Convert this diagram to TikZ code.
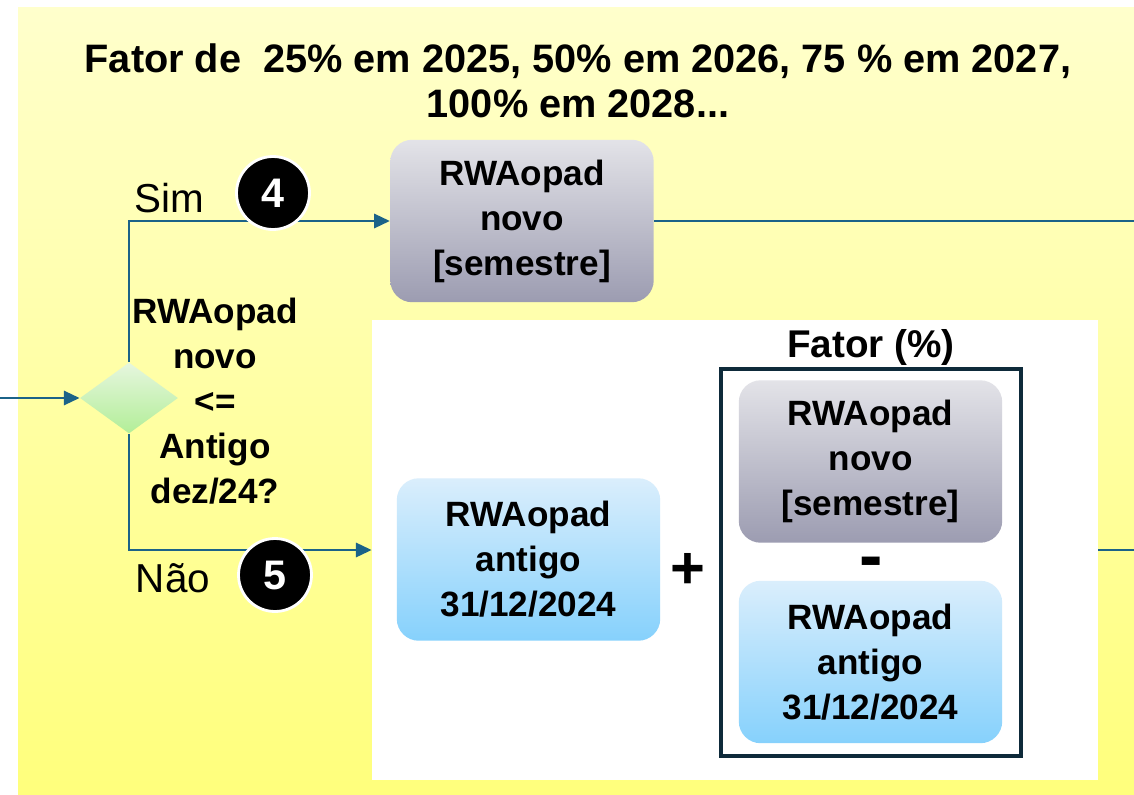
\documentclass[tikz,border=0pt]{standalone}
\usepackage{fontspec}
\setmainfont{Liberation Sans}
\usepackage{tikz}
\usetikzlibrary{arrows.meta,shapes.geometric,positioning}
\definecolor{flow}{HTML}{1B6388}
\definecolor{frame}{HTML}{0E2A3A}
\definecolor{bgtop}{HTML}{FFFFCC}
\definecolor{bgbot}{HTML}{FFFF7C}
\definecolor{graytop}{HTML}{E3E3E8}
\definecolor{graybot}{HTML}{9C9CB1}
\definecolor{bluetop}{HTML}{DAEEFC}
\definecolor{bluebot}{HTML}{86D1FC}
\definecolor{greentop}{HTML}{E6F6DE}
\definecolor{greenbot}{HTML}{B2EE98}
\newcommand{\boxfont}{\fontsize{20}{25.6}\selectfont\bfseries}
\tikzset{
  flowline/.style={draw=flow, line width=1.7pt},
  arr/.style={flowline, -{Triangle[length=9pt,width=8pt]}},
  card/.style={rounded corners=0.44cm, minimum width=5.27cm, minimum height=3.25cm,
    align=center, inner sep=0pt, font=\boxfont},
  graycard/.style={card, top color=graytop, bottom color=graybot},
  bluecard/.style={card, top color=bluetop, bottom color=bluebot},
  decision/.style={diamond, top color=greentop, bottom color=greenbot, inner sep=0pt,
    minimum width=1.96cm, minimum height=1.42cm},
  numcirc/.style={circle, fill=black, draw=white, line width=1.6pt, minimum size=1.46cm,
    inner sep=0pt, text=white, font=\fontsize{23.5}{23.5}\selectfont\bfseries},
  lab/.style={font=\fontsize{23}{23}\selectfont},
  sign/.style={inner sep=0pt, font=\bfseries},
}
\begin{document}
\begin{tikzpicture}[x=0.02cm, y=-0.02cm]
  \useasboundingbox (0,0) rectangle (1134,795);
  \fill[white] (0,0) rectangle (1134,795);
  \fill[top color=bgtop, bottom color=bgbot] (18,7) rectangle (1134,795);
  % title
  \node[align=center, font=\fontsize{22.6}{25.6}\selectfont\bfseries] (title) at (578,81)
    {Fator de~ 25\% em 2025, 50\% em 2026, 75 \% em 2027,\\100\% em 2028...};
  % decision
  \coordinate (in) at (0,398);
  \node[decision] (dec) at (129,398) {};
  \node[align=center, font=\boxfont] (cond) at (215,401)
    {RWAopad\\novo\\<=\\Antigo\\dez/24?};
  % branches
  \node[graycard] (novo) at (522,221) {RWAopad\\novo\\{}[semestre]};
  \node[fill=white, minimum width=14.52cm, minimum height=9.2cm, inner sep=0pt] (panel) at (735,550) {};
  \node[bluecard] (antigo) at (528.5,559.5) {RWAopad\\antigo\\31/12/2024};
  \node[sign, font=\fontsize{34}{34}\selectfont\bfseries] (plus) at (688,571) {+};
  \node[draw=frame, line width=2.3pt, minimum width=6cm, minimum height=7.74cm, inner sep=0pt] (fator) at (871,562.5) {};
  \node[font=\fontsize{22}{22}\selectfont\bfseries] (fatortit) at (871,348) {Fator (\%)};
  \node[graycard] (fnovo) at (870.5,461.5) {RWAopad\\novo\\{}[semestre]};
  \node[sign, font=\fontsize{40}{40}\selectfont\bfseries] (minus) at (871,568) {-};
  \node[bluecard] (fantigo) at (870.5,662) {RWAopad\\antigo\\31/12/2024};
  \coordinate (outtop) at (1134,221);
  \coordinate (outbot) at (1134,550);
  % connectors
  \draw[arr] (in) -- (dec.west);
  \draw[arr] (dec.north) |- (novo.west);
  \draw[arr] (dec.south) |- (panel.west);
  \draw[flowline] (novo.east) -- (outtop);
  \draw[flowline] (panel.east) -- (outbot);
  % labels on the branches
  \node[lab] (sim) at (169,198) {Sim};
  \node[lab] (nao) at (173,578) {Não};
  \node[numcirc] (n4) at (273,193) {4};
  \node[numcirc] (n5) at (275,575) {5};
\end{tikzpicture}
\end{document}
